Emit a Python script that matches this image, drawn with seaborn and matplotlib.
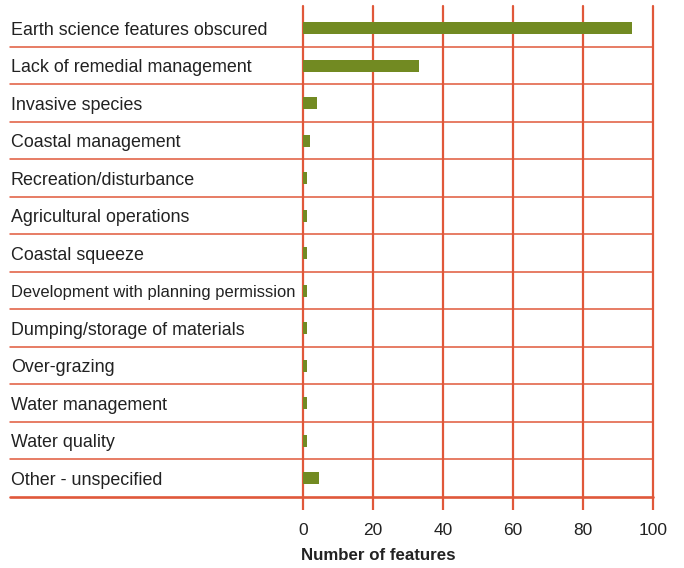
import matplotlib
matplotlib.use("Agg")
import matplotlib.pyplot as plt
import seaborn as sns

# categories and values
threats = [
    "Earth science features obscured",
    "Lack of remedial management",
    "Invasive species",
    "Coastal management",
    "Recreation/disturbance",
    "Agricultural operations",
    "Coastal squeeze",
    "Development with planning permission",
    "Dumping/storage of materials",
    "Over-grazing",
    "Water management",
    "Water quality",
    "Other - unspecified",
]
n_features = [94, 33, 4, 2, 1.2, 1, 1, 1, 1, 1, 1, 1, 4.7]
x_ticks = [0, 20, 40, 60, 80, 100]

line_col = "#E0583A"
bar_col = "#728A22"
text_col = "#222222"

sns.set_theme(style="white")
plt.rcParams["font.family"] = ["Liberation Sans", "DejaVu Sans"]

W, H = 684, 568
fig = plt.figure(figsize=(W / 100, H / 100), dpi=100)
ax_left, ax_right, ax_top, ax_bottom = 303, 653, 6, 497
ax = fig.add_axes([ax_left / W, 1 - ax_bottom / H,
                   (ax_right - ax_left) / W, (ax_bottom - ax_top) / H])

sns.barplot(x=n_features, y=threats, orient="h", color=bar_col,
            saturation=1, width=0.32, linewidth=0, ax=ax, zorder=3)

ax.set_xlim(0, 100)
ax.set_ylim(12.5, -0.5 - (ax_bottom - ax_top - 13 * 37.5) / 37.5)
ax.set_xticks(x_ticks)

for s in ax.spines.values():
    s.set_visible(False)

# vertical grid lines
for v in x_ticks:
    ax.axvline(v, color=line_col, lw=1.6, zorder=2, clip_on=False)

# horizontal row separators reaching into the label area
x_start = (10 - ax_left) / (ax_right - ax_left)
for i in range(12):
    ax.axhline(i + 0.5, xmin=x_start, xmax=1, color=line_col, lw=1.1,
               clip_on=False, zorder=2)
ax.axhline(12.5, xmin=x_start, xmax=1, color=line_col, lw=1.9,
           clip_on=False, zorder=2)

ax.tick_params(axis="x", length=9.5, width=1.6, color=line_col,
               direction="out", pad=9, labelsize=12.5, labelcolor=text_col,
               bottom=True)
ax.tick_params(axis="y", length=0, pad=(ax_left - 11) * 0.72, labelsize=12.9,
               labelcolor=text_col)
for lab in ax.get_yticklabels():
    lab.set_horizontalalignment("left")
    if lab.get_text().startswith("Development"):
        lab.set_fontsize(11.9)

ax.set_xlabel("Number of features", fontsize=12.2, fontweight="bold",
              color=text_col)
ax.xaxis.set_label_coords((378 - ax_left) / (ax_right - ax_left),
                          -(556 - ax_bottom) / (ax_bottom - ax_top))
ax.xaxis.label.set_verticalalignment("center")
ax.set_ylabel("")

fig.savefig("out.png", dpi=100)
